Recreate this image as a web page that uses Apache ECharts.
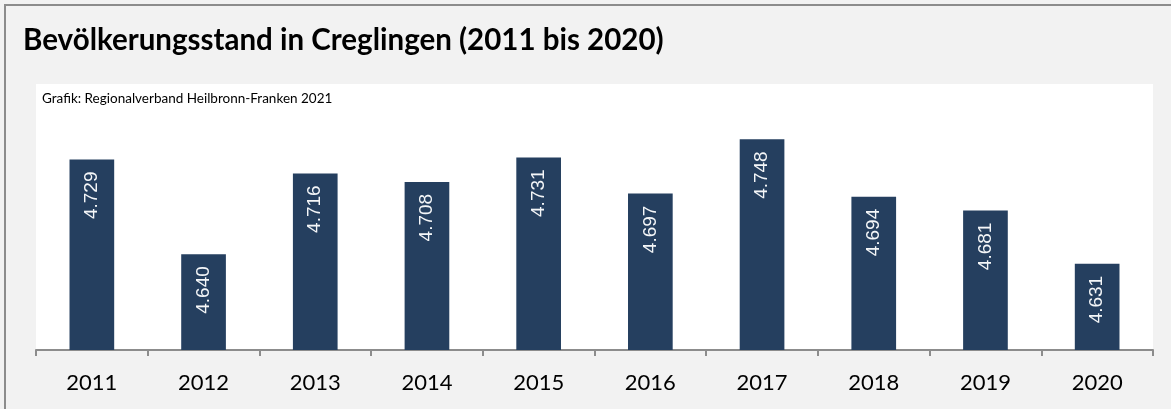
<!DOCTYPE html>
<html>
<head>
<meta charset="utf-8">
<script src="https://cdn.jsdelivr.net/npm/echarts@6/dist/echarts.min.js"></script>
<style>
  html, body { margin: 0; padding: 0; background: #f2f2f2; }
  #frame {
    position: absolute; left: 4px; top: 4px; width: 1167px; height: 405px;
    border-left: 2px solid #8c8c8c; border-top: 2px solid #8c8c8c;
    box-sizing: border-box;
  }
  #chart { position: absolute; left: 0; top: 0; width: 1171px; height: 409px; }
</style>
</head>
<body>
<div id="frame"></div>
<div id="chart"></div>
<script>
// Einwohner je Jahr (Stand 31.12.)
const years = ['2011', '2012', '2013', '2014', '2015', '2016', '2017', '2018', '2019', '2020']
const population = [4729, 4640, 4716, 4708, 4731, 4697, 4748, 4694, 4681, 4631]

const fmt = v => String(v).replace(/\B(?=(\d{3})+(?!\d))/g, '.')

const chart = echarts.init(document.getElementById('chart'))
chart.setOption({
  animation: false,
  backgroundColor: 'transparent',
  textStyle: { fontFamily: 'Lato, "Open Sans", sans-serif' },
  title: [
    {
      text: 'Bevölkerungsstand in Creglingen (2011 bis 2020)',
      left: 23, top: 25, padding: 0,
      textStyle: { fontFamily: 'Lato', fontWeight: 'bold', fontSize: 29.5, color: '#000' },
    },
    {
      text: 'Grafik: Regionalverband Heilbronn-Franken 2021',
      left: 42, top: 92, padding: 0,
      textStyle: { fontFamily: 'Lato', fontWeight: 'normal', fontSize: 13.5, color: '#000' },
    },
  ],
  grid: {
    left: 36, right: 18, top: 84, bottom: 59,
    show: true, backgroundColor: '#fff', borderWidth: 0,
  },
  xAxis: {
    type: 'category',
    data: years,
    axisLine: { lineStyle: { color: '#8c8c8c', width: 2 } },
    axisTick: { show: true, length: 6, lineStyle: { color: '#8c8c8c', width: 2 } },
    axisLabel: { color: '#000', fontSize: 22, fontFamily: 'Lato', margin: 22 },
  },
  yAxis: {
    type: 'value',
    min: 4550, max: 4800,
    show: false,
    splitLine: { show: false },
  },
  series: [{
    type: 'bar',
    data: population,
    barWidth: '40%',
    itemStyle: { color: '#253f5f' },
    label: {
      show: true,
      position: 'insideTop',
      rotate: 90,
      align: 'right',
      verticalAlign: 'middle',
      distance: 12,
      color: '#f4f6f8',
      fontSize: 19,
      fontFamily: '"Liberation Sans", Arial, sans-serif',
      formatter: p => fmt(p.value),
    },
  }],
})
</script>
</body>
</html>
